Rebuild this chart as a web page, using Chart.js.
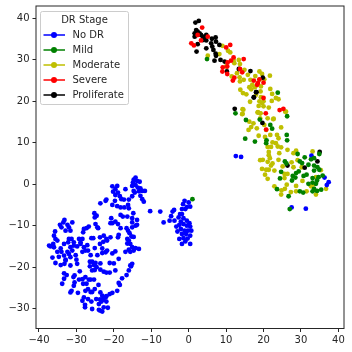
<!DOCTYPE html>
<html>
<head>
<meta charset="utf-8">
<script src="https://cdn.jsdelivr.net/npm/chart.js@4"></script>
<style>
  html, body { margin: 0; padding: 0; background: #fff; }
  canvas { display: block; }
</style>
</head>
<body>
<canvas id="chart" width="352" height="352"></canvas>
<script>
const stageNames = ['No DR', 'Mild', 'Moderate', 'Severe', 'Proliferate'];
const xTicks = [-40, -30, -20, -10, 0, 10, 20, 30, 40];
const yTicks = [-30, -20, -10, 0, 10, 20, 30, 40];

const noDr = [
  [-14.2,1.6],[-14.7,1.1],[-13.8,.8],[-13.1,.6],[-14.9,.4],[-15.1,-.4],[-14.2,-.2],[-13.6,-.8],[-12.9,-1],[-14.7,-1.6],
  [-13.3,-1.7],[-12.4,-1.6],[-11.7,-1.6],[-15.1,-2.9],[-12.9,-2.8],[-12.4,-3.6],[-12,-4.2],[-14.4,-2],
  [-20.4,-.5],[-19.1,-.4],[-19.6,-1.2],[-20.2,-1.8],[-18.9,-2],[-19.6,-2.6],[-16.9,-1.2],[-18.4,-2.9],[-18,-3.6],[-17.3,-3.7],
  [-16,-3.7],[-19.7,-4],[-20.4,-5],[-19.1,-5.3],[-18.2,-5.6],[-17.2,-5.6],[-16,-5.8],[-16.2,-5],[-23.6,-4.6],[-22.2,-4],[-22,-3.7],
  [-14.8,-7],[-18.2,-7.4],[-16.4,-7.8],[-17.6,-7.8],[-15.1,-8.2],[-13.8,-8.6],[-20.7,-8.2],[-15.1,-9.2],[-13.8,-9.8],[-19.6,-9],
  [-18.9,-9.6],[-20.9,-9.4],[-20.4,-9.4],[-15.1,-10.4],[-14.2,-10],[-18.2,-10.6],[-16.6,-10.6],[-16.2,-11.2],[-15.8,-11.8],
  [-15.3,-12.6],[-14.7,-12.7],[-18.7,-12.2],[-16.4,-13.2],[-16,-13.6],[-16.4,-14.3],[-15.6,-14.4],[-15.1,-15.2],[-14.2,-15.4],
  [-13.3,-15.6],[-16,-15.8],[-16.9,-16.3],[-15.6,-16.3],[-14.7,-16],[-18.9,-12.8],
  [-25.2,-7],[-24.6,-7.6],[-25.1,-8],[-24.9,-9.6],[-24.4,-10.4],[-24.2,-10.6],[-26.7,-10.2],[-27.3,-10.6],[-28,-10.8],[-28.2,-11.6],
  [-33.2,-8.6],[-33.5,-9.2],[-34.4,-9.8],[-34,-10.4],[-32.4,-9.8],[-31.1,-9.2],[-32,-10.4],[-31.6,-11.2],[-32.9,-11.2],[-35.7,-11.4],
  [-36,-12.4],[-35.6,-13.2],[-35.1,-13.6],[-32,-13.2],[-31.3,-13.2],[-32.2,-14],[-30.7,-14],[-29.3,-13.2],[-28.4,-13.2],[-28.9,-14],
  [-26,-13],[-25.5,-13],[-37.3,-14.8],[-36.9,-15],[-36.2,-14.4],[-36,-15.2],[-33.3,-14.4],[-34.2,-15.5],[-35.1,-16.3],[-34,-16.3],
  [-31.6,-15.2],[-30.7,-14.8],[-29.8,-15],[-28.9,-14.4],[-32.4,-16.3],[-31.1,-16],[-34.7,-17.5],[-36.4,-17.7],[-33.3,-17.2],[-32,-16.8],
  [-32.9,-18.2],[-31.6,-17.6],[-30.2,-17.1],[-35.6,-19],[-34.2,-19.5],[-33.2,-19.2],[-32.9,-18.4],[-31.6,-19.6],[-30,-18.2],[-29.8,-19.2],
  [-33.3,-21.5],[-32.6,-21.9],[-33.3,-22.8],[-33.8,-24],[-30.5,-22],[-30.8,-22.4],[-29.1,-21],
  [-28,-15.2],[-27.1,-14.7],[-27.6,-16],[-28.4,-16.3],[-26.9,-16],[-26.2,-17.1],[-24.4,-17.1],[-25.1,-15.4],[-23.1,-15.5],[-23.7,-14.4],
  [-23.7,-12.8],[-22.7,-12.4],[-22,-13.2],[-20.9,-12.8],[-21.8,-13.6],[-22.8,-13.9],[-22.2,-16.4],[-21.8,-16],[-20.4,-16.7],[-19.6,-16.2],
  [-18.7,-18],[-23.1,-16.6],[-26.4,-18.7],[-25.8,-18.7],[-25.3,-19.5],[-23.6,-19.1],[-24.9,-19],[-26.4,-19.8],[-24.6,-20],[-23.6,-20.6],
  [-22.7,-21.1],[-22,-21.3],[-21.1,-21.3],[-21.1,-19],[-20,-19.1],[-19.6,-20.8],[-25.8,-20.8],[-25.1,-20.7],
  [-27.6,-22.4],[-26.7,-23],[-29.3,-23],[-28.4,-22.9],[-30.5,-23.7],[-30.7,-24.5],[-29.6,-26.2],[-31.3,-25.7],[-31.6,-26.1],[-28.2,-24],
  [-27.3,-24],[-26.2,-23],[-25.3,-23],[-24.1,-24.3],[-26.9,-25.3],[-26.2,-26],[-27.6,-25.7],[-25.8,-26],[-25.1,-25.3],
  [-28,-27.3],[-28.4,-28.1],[-26.9,-27.7],[-27.7,-29.1],[-27.7,-29.7],[-25.8,-30.1],[-26,-28.3],[-24.7,-27.7],[-24,-28.9],[-23.7,-27.8],
  [-23.1,-26.9],[-22,-27],[-21.1,-26.5],[-20.4,-26.2],[-19.1,-25.7],[-18.4,-24.3],[-18.7,-23.8],[-17.8,-22.7],[-16.6,-21.9],[-16,-20.8],
  [-15.4,-19.8],[-15.1,-19.2],[-15.6,-19.6],[-23.6,-26.1],[-23.3,-28.3],[-22.8,-27.8],[-22,-28.3],[-22.2,-27.3],[-22.7,-29.7],[-21.6,-29.8],
  [-24,-30.3],[-23.1,-30.7],[-23.6,-30.5],
  [-10.3,-6.5],[-7.6,-6.6],[-6.7,-9.2],[-5.1,-8.8],[-3.8,-8.8],[-4.7,-7.7],[-4.3,-6.6],[-3.9,-6.2],[-2.7,-8],[-2.3,-7.2],[-1.8,-6],[-.9,-6],
  [-1.5,-4.8],[-1.1,-4],[0,-4.4],[.4,-5.4],[-.5,-5.5],[-1.8,-7.2],[-1.4,-8.2],[-.5,-8.8],[.2,-9.4],[-2.1,-9],[-3.3,-10.2],[-2.5,-9.8],
  [-1.4,-9.6],[-.5,-10],[.4,-10.2],[-3,-11.4],[-2.1,-10.8],[-1.1,-11.2],[-.2,-11.2],[.7,-11.2],[-1.8,-12],[-.7,-12],[.4,-12.4],[-2.5,-13.2],
  [-1.4,-13],[-.3,-13.1],[-1.8,-14.4],[-.9,-13.8],[.4,-14.4],
  [12.6,6.8],[14,6.6],[32.8,6.9],[36.3,1.6],[37.4,.5],[36.9,-.2],[27.5,-5.6],[31.3,-5.9]
];

const mild = [
  [23.8,22.1],[12.5,17.1],[26.3,16.4],[15.3,15.5],[19,15.6],[21.8,14.3],[22.3,13.4],[26.2,11.9],[15.1,11],[17.7,10.3],[26.3,10.6],
  [20.8,10.6],[20.7,9.9],[29.1,7.3],[31,6.5],[32.7,6],[33.5,6.3],[34.9,7.3],[25.7,5.5],[26.1,5],[29.7,5.5],[30.3,5.1],[32,4.7],[33.5,4.5],
  [34.4,4.1],[33.5,3.3],[34.9,3.5],[24.7,3],[29.4,3.1],[28.7,2.7],[27.8,2],[28.5,1.6],[27.6,.9],[24.4,1.4],[30.7,2],[31.5,2.3],[34.7,1.7],
  [35.8,2.1],[33.1,1.5],[34.3,.9],[32,.1],[33.1,.4],[34,.1],[33.5,-1.1],[34.3,-1.6],[33.1,-1.7],[35.4,-1.3],[23.6,-1.2],[29.7,-1.7],[30.6,-2],
  [26.7,-2.9],[27,-6],[4.9,30.2],[1,-3.6]
];

const moderate = [
  [5.1,31],[9,33.4],[10.5,32.2],[11.1,31.8],[8.2,31.4],[12,30],[13.4,30],[13.7,29],[12.2,29.2],[10,28.4],[14.9,27.6],[15.8,26.4],[12.9,26.8],
  [13.6,25.8],[11.5,26],[14.7,25.2],[13.7,24.8],[16.5,25.2],[18.9,27.2],[19.6,26.6],[17.8,26.1],[21.7,26.2],[20.2,25.3],[18.9,25.2],[19.3,23.6],
  [17,24],[17.7,23.4],[16.2,23.4],[13.8,22.8],[14.5,22],[15.4,21.7],[16.7,22.9],[16.4,19.9],[18,21.6],[19.2,22.4],[21.8,23],[22.3,21.8],
  [23.3,20.8],[24,20.5],[22.2,20.1],[19.3,21],[18.9,20],[19.6,19.6],[20,20],[18.7,18.9],[20,18.8],[21.4,18.5],[14.4,18.1],[14.3,16.9],[18.5,17.4],
  [19.2,17.1],[19.1,15.9],[21.1,15.9],[22.7,15.8],[26,17.5],[14.6,18],[14.4,17],[18.4,17.3],[19.1,17.1],[22.6,15.7],[25.8,17.5],[16.2,15.1],
  [17.3,14.7],[18.2,13.5],[16.7,13.8],[16,13.1],[20.2,14.3],[20.7,13.1],[24.7,13.7],[18.7,11.7],[20.4,11.4],[21.8,11.9],[23.6,11.9],[24,11.1],
  [22.4,10.1],[23.3,9.9],[23.8,9.1],[22,9],[21.1,9],[24.7,8.9],[21.4,7.8],[21.4,7],[24.2,7.5],[26.4,8.3],[28.7,8.1],[28,7.5],[21.7,6.3],[19.1,5.8],
  [19.8,5.9],[21.1,5.4],[24,5.9],[22.4,5],[27.5,5.3],[29.1,5.8],[30.2,4.1],[25.1,4.3],[28,4.1],[19.6,3.7],[20.7,3.5],[21.4,3.5],[22,4.5],[22.9,3.3],
  [25.6,2.5],[26.4,2.5],[20.4,2.3],[21.1,1.3],[25.6,1.5],[26.2,-.1],[28.7,-.4],[30.4,.8],[33.1,7.9],[22.9,-.5],[24.8,-1.5],[25.7,-1.1],[24.7,-2.5],
  [27.3,-1.9],[28.7,-1.7],[31.5,-1.7],[32.7,-.5],[33.5,0],[34,-2.5],[36.7,-1.1],[35.3,3.4],[34,1.7]
];

const severe = [
  [3.6,37.8],[2.4,36],[.7,34],[1.4,33.5],[3.3,34.7],[5.1,35.6],[10,33],[11.1,33.6],[12,30.6],[11.3,29.8],[10.4,29.4],[14.7,30.2],[9.1,28.2],
  [10.3,28.4],[9,27.2],[10.3,26.6],[13.7,27.8],[14.3,27],[12.2,25.7],[11.8,25],[17.4,25],[18.9,25.3],[18.5,24.4],[20,24.5],[18.3,24],[20,20.8],
  [24.3,17.9],[25.3,18.2],[20.6,17.1],[20.7,13.2]
];

const proliferate = [
  [1.8,39],[2.7,39.4],[2,37.2],[1.6,36.4],[1.6,35.6],[2.4,36.8],[2.9,36.4],[3.3,36],[3.8,35.6],[4.2,35.2],[4.7,36],[3.8,34.8],[4.7,34.7],[2.4,33.8],
  [4.7,32.8],[2.1,32],[6.2,35.1],[7.2,35.4],[7.3,34.4],[6,34],[8.2,33.6],[6.3,33.2],[6.6,32.4],[7.2,31.5],[7.3,31],[6.9,29.8],[8.5,30],[9.6,29.6],
  [10.2,27.2],[13.4,27.8],[16.5,27.3],[19.8,25.7],[18.1,22.2],[17.4,20.9],[12.3,18.2],[18,22.2],[17.4,21],[19.7,14.8],[34.4,5.5],[35,7.8],[26.4,4.5],[31,4]
];

const stagePoints = [noDr, mild, moderate, severe, proliferate];
const stageColors = ['#0000ff', '#008000', '#bfbf00', '#ff0000', '#000000'];
// lower order is painted on top
const stageOrder = [3, 1, 5, 2, 4];

const inkColor = '#262626';

const frameAndLegend = {
  id: 'frameAndLegend',
  afterDraw(chart) {
    const { ctx, chartArea } = chart;
    ctx.save();
    ctx.strokeStyle = inkColor;
    ctx.lineWidth = 1;
    ctx.strokeRect(chartArea.left, chartArea.top, chartArea.right - chartArea.left, chartArea.bottom - chartArea.top);

    // matplotlib style legend box inside the axes
    ctx.strokeStyle = '#cccccc';
    ctx.fillStyle = 'rgba(255,255,255,0.8)';
    ctx.beginPath();
    ctx.roundRect(40.5, 11.5, 88, 93, 2);
    ctx.fill();
    ctx.stroke();

    ctx.font = '10px "DejaVu Sans"';
    ctx.textBaseline = 'middle';
    ctx.fillStyle = inkColor;
    ctx.textAlign = 'center';
    ctx.fillText('DR Stage', 84.5, 20);
    ctx.textAlign = 'left';
    stageNames.forEach((name, i) => {
      const y = 35 + i * 15;
      ctx.strokeStyle = stageColors[i];
      ctx.lineWidth = 1.5;
      ctx.beginPath();
      ctx.moveTo(43.5, y);
      ctx.lineTo(65, y);
      ctx.stroke();
      ctx.fillStyle = stageColors[i];
      ctx.beginPath();
      ctx.arc(54, y, 3, 0, Math.PI * 2);
      ctx.fill();
      ctx.fillStyle = inkColor;
      ctx.fillText(name, 72.5, y);
    });
    ctx.restore();
  }
};

const tickLabel = v => String(v).replace('-', '\u2212');

new Chart(document.getElementById('chart'), {
  type: 'scatter',
  data: {
    datasets: stageNames.map((name, i) => ({
      label: name,
      data: stagePoints[i].map(p => ({ x: p[0], y: p[1] })),
      backgroundColor: stageColors[i],
      borderWidth: 0,
      pointRadius: 2.4,
      order: stageOrder[i]
    }))
  },
  options: {
    animation: false,
    responsive: false,
    layout: { padding: { top: 6, right: 8, left: 0, bottom: 0 } },
    plugins: {
      legend: { display: false },
      tooltip: { enabled: false }
    },
    scales: {
      x: {
        type: 'linear',
        min: -40.8,
        max: 41.5,
        afterBuildTicks: s => { s.ticks = xTicks.map(value => ({ value })); },
        afterFit: s => { s.height = 23.5; s.paddingLeft = 0; s.paddingRight = 0; },
        grid: { drawOnChartArea: false, tickLength: 3.5, tickColor: inkColor, lineWidth: 1 },
        border: { display: false },
        ticks: {
          color: inkColor, padding: 2, maxRotation: 0, autoSkip: false,
          font: { family: 'DejaVu Sans', size: 10 },
          callback: tickLabel
        }
      },
      y: {
        type: 'linear',
        min: -34.8,
        max: 43,
        afterBuildTicks: s => { s.ticks = yTicks.map(value => ({ value })); },
        afterFit: s => { s.width = 36; s.paddingTop = 0; s.paddingBottom = 0; },
        grid: { drawOnChartArea: false, tickLength: 3.5, tickColor: inkColor, lineWidth: 1 },
        border: { display: false },
        ticks: {
          color: inkColor, padding: 3, autoSkip: false,
          font: { family: 'DejaVu Sans', size: 10 },
          callback: tickLabel
        }
      }
    }
  },
  plugins: [frameAndLegend]
});
</script>
</body>
</html>
